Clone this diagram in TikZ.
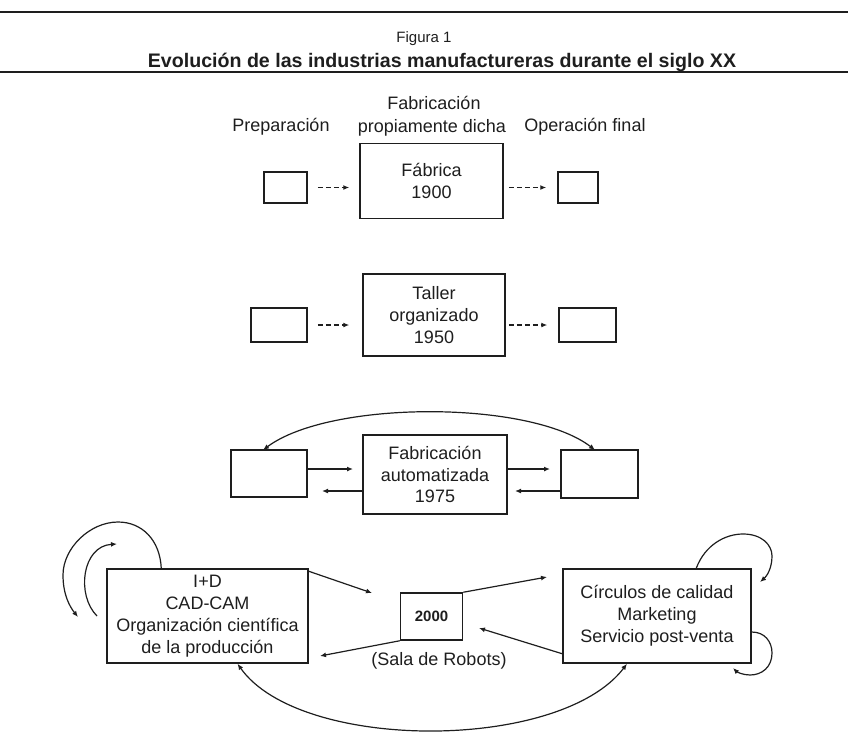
\documentclass[tikz,border=0pt]{standalone}
\usepackage{fontspec}
\setmainfont{Liberation Sans}
\usetikzlibrary{arrows.meta,calc}
\definecolor{ink}{RGB}{30,30,30}
\newcommand\myfontbody{\fontsize{18}{21.8}\selectfont}
\begin{document}
\begin{tikzpicture}[x=1pt,y=-1pt,
  box/.style={draw=ink,line width=1.5pt,inner sep=0pt,align=center,font=\myfontbody,text=ink},
  arr/.style={draw=ink,line width=1.2pt,-{Latex[length=6pt,width=5pt]}},
  darr/.style={arr,dash pattern=on 5pt off 3pt},
  lbl/.style={font=\myfontbody,anchor=base,inner sep=0pt,text=ink}]
\useasboundingbox (0,0) rectangle (848,731);
% rules and title
\draw[ink,line width=2pt] (0,12) -- (848,12);
\draw[ink,line width=1.3pt] (0,72) -- (848,72);
\node[lbl,font=\fontsize{15}{18}\selectfont] (fig) at (424,42) {Figura 1};
\node[lbl,font=\fontsize{19.6}{22}\selectfont\bfseries] (title) at (442,67) {Evolución de las industrias manufactureras durante el siglo XX};
% row 1 labels
\node[lbl] (prep) at (281,131) {Preparación};
\node[lbl] (fab1) at (434,109) {Fabricación};
\node[lbl] (fab2) at (432,132) {propiamente dicha};
\node[lbl] (opf) at (585,131) {Operación final};
% row 1
\node[box,minimum width=43pt,minimum height=31pt] (r1L) at (285.5,187.5) {};
\node[box,minimum width=143pt,minimum height=75pt] (r1M) at (431.5,181) {Fábrica\\1900};
\node[box,minimum width=40pt,minimum height=31pt] (r1R) at (578,187.5) {};
\draw[darr] ([xshift=10pt]r1L.east) -- ([xshift=-10pt]r1L.east -| r1M.west);
\draw[darr] ([xshift=5pt]r1M.east |- r1R.west) -- ([xshift=-11pt]r1R.west);
% row 2
\node[box,minimum width=56pt,minimum height=34pt] (r2L) at (279,325) {};
\node[box,minimum width=142pt,minimum height=82pt] (r2M) at (434,315) {Taller\\organizado\\1950};
\node[box,minimum width=57pt,minimum height=34pt] (r2R) at (587.5,325) {};
\draw[darr] ([xshift=10pt]r2L.east) -- ([xshift=-13pt]r2L.east -| r2M.west);
\draw[darr] ([xshift=3pt]r2M.east |- r2R.west) -- ([xshift=-11pt]r2R.west);
% row 3
\node[box,minimum width=76pt,minimum height=47pt] (r3L) at (269,473.5) {};
\node[box,minimum width=144pt,minimum height=79pt] (r3M) at (435,474.5) {Fabricación\\automatizada\\1975};
\node[box,minimum width=77pt,minimum height=48pt] (r3R) at (599.5,474) {};
\coordinate (t1) at (353,469);
\coordinate (t2) at (322,491);
\coordinate (t3) at (550,469);
\coordinate (t4) at (515,491);
\draw[arr] (r3L.east |- t1) -- (t1);
\draw[arr] (r3M.west |- t2) -- (t2);
\draw[arr] (r3M.east |- t3) -- (t3);
\draw[arr] (r3R.west |- t4) -- (t4);
\coordinate (a3L) at (263,450);
\coordinate (a3R) at (595,450);
\draw[draw=ink,line width=1.2pt,{Latex[length=6pt,width=5pt]}-{Latex[length=6pt,width=5pt]}]
  (a3L) .. controls (330,400) and (530,400) .. (a3R);
% row 4
\node[box,minimum width=201pt,minimum height=94pt] (r4L) at (207.5,616) {I+D\\CAD-CAM\\Organización científica\\de la producción};
\node[box,minimum width=62pt,minimum height=47pt,font=\fontsize{15}{18}\selectfont\bfseries] (r4C) at (431.5,616.5) {2000};
\node[lbl] (sala) at (439,665) {(Sala de Robots)};
\node[box,minimum width=188pt,minimum height=94pt] (r4R) at (657,616) {Círculos de calidad\\Marketing\\Servicio post-venta};
\coordinate (u1) at (372,593);
\coordinate (u2) at (320,656);
\coordinate (u3) at (547,577);
\coordinate (u4) at (479,628);
\draw[arr] ([yshift=-3pt]r4L.north east) -- (u1);
\draw[arr] (r4C.south west) -- (u2);
\draw[arr] (r4C.north east) -- (u3);
\draw[arr] ([yshift=10pt]r4R.south west) -- (u4);
% bottom curve
\draw[draw=ink,line width=1.2pt,{Latex[length=6pt,width=5pt]}-{Latex[length=6pt,width=5pt]}]
  ([xshift=30pt]r4L.south) .. controls (300,752) and (560,752) .. ([xshift=-30pt]r4R.south);
% left self loops
\draw[arr] ([xshift=55pt]r4L.north west) .. controls (160,540) and (142,522) .. (118,522)
  .. controls (90,522) and (63,548) .. (63,575)
  .. controls (63,595) and (70,607) .. (78,617);
\draw[arr] (97,616) .. controls (76,595) and (82,546) .. (117,544);
% right self loops
\draw[arr] ([xshift=134pt]r4R.north west) .. controls (705,545) and (725,534) .. (743,534)
  .. controls (762,534) and (772,545) .. (772,556)
  .. controls (772,568) and (767,576) .. (760,582);
\draw[arr] ([yshift=-16pt]r4R.east) .. controls (765,632) and (772,642) .. (772,653)
  .. controls (772,667) and (762,675) .. (750,675)
  .. controls (743,675) and (737,672) .. (733,668);
\end{tikzpicture}
\end{document}
